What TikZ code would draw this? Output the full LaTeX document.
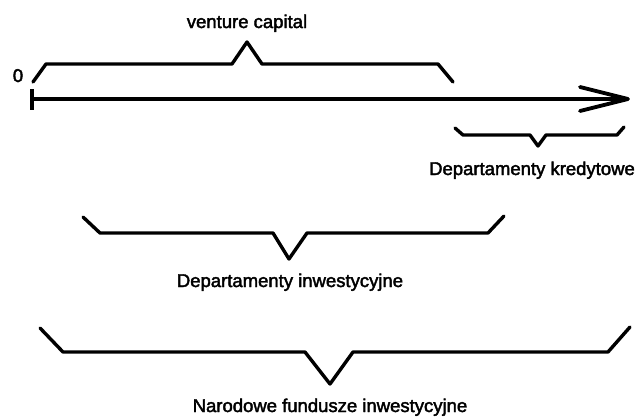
\documentclass[tikz,border=0pt]{standalone}
\usepackage{fontspec}
\setmainfont[FakeBold=2.2]{Liberation Sans}
\begin{document}
\begin{tikzpicture}[x=1pt,y=-1pt,
  brace/.style={line width=3.4pt, line join=round, line cap=round},
  axisline/.style={line width=3.4pt, line cap=butt},
  lbl/.style={font=\fontsize{18.5}{20}\selectfont, inner sep=0pt, anchor=base}]
\useasboundingbox (0,0) rectangle (640,416);
% labels
\node[lbl] (zero) at (18,82) {0};
\node[lbl] (vc) at (247,28) {venture capital};
\node[lbl] (dk) at (532,175) {Departamenty kredytowe};
\node[lbl] (di) at (290,287) {Departamenty inwestycyjne};
\node[lbl] (nfi) at (330,412) {Narodowe fundusze inwestycyjne};
% axis
\coordinate (o) at (32,99);
\coordinate (tip) at (628,99);
\coordinate (tickT) at (32,89);
\coordinate (tickB) at (32,110);
\coordinate (armT) at (580,87);
\coordinate (armB) at (580,111);
\draw[axisline] (o) -- (tip);
\draw[axisline] (tickT) -- (tickB);
\draw[brace, line width=3.8pt] (armT) -- (tip) -- (armB);
% venture capital bracket
\draw[brace] (33,82) -- (46,64) -- (232,64) -- (247,42) -- (262,64) -- (438,64) -- (453,82);
% Departamenty kredytowe bracket
\draw[brace] (455,128) -- (463,135) -- (530,135) -- (538,146) -- (546,135) -- (617,135) -- (624,127);
% Departamenty inwestycyjne bracket
\draw[brace] (83,217) -- (100,233) -- (273,233) -- (289,259) -- (307,233) -- (488,233) -- (504,216);
% Narodowe fundusze inwestycyjne bracket
\draw[brace] (40,328) -- (63,352) -- (305,352) -- (330,384) -- (353,352) -- (608,352) -- (630,327);
\end{tikzpicture}
\end{document}
